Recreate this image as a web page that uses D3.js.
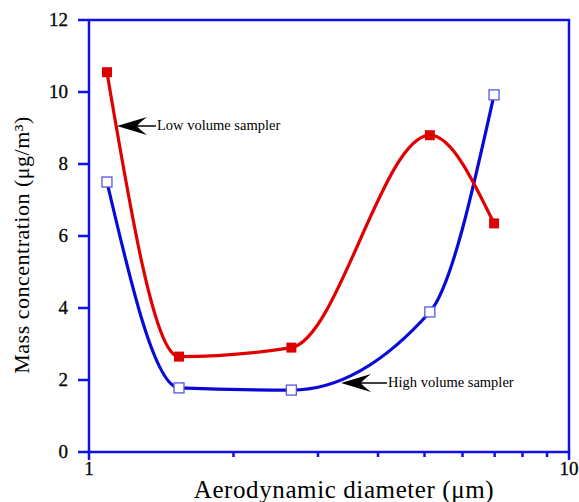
<!DOCTYPE html>
<html>
<head>
<meta charset="utf-8">
<script src="https://cdn.jsdelivr.net/npm/d3@7"></script>
<style>
  body { margin: 0; background: #fff; }
  svg text { font-family: "Liberation Serif", serif; }
</style>
</head>
<body>
<div id="canvas"></div>
<script>
"use strict";

/* Data */
let diameters = [1.09, 1.54, 2.64, 5.13, 6.98];
let lowVolume = [10.55, 2.65, 2.9, 8.8, 6.35];
let highVolume = [7.5, 1.78, 1.72, 3.89, 9.92];
let yTicks = [0, 2, 4, 6, 8, 10, 12];
let xMajor = [1, 10];
let xMinor = [2, 3, 4, 5, 6, 7, 8, 9];

/* SVG setup */
let svgWidth = 579;
let svgHeight = 502;
let plotLeft = 89, plotRight = 569, plotTop = 20, plotBottom = 452;
let axisBlue = "#1010ee";

let svg = d3.select("#canvas")
  .append("svg")
  .attr("width", svgWidth)
  .attr("height", svgHeight);

/* Scales */
let xScale = d3.scaleLog().domain([1, 10]).range([plotLeft, plotRight]);
let yScale = d3.scaleLinear().domain([0, 12]).range([plotBottom, plotTop]);

/* Frame */
svg.append("rect")
  .attr("x", plotLeft)
  .attr("y", plotTop)
  .attr("width", plotRight - plotLeft)
  .attr("height", plotBottom - plotTop)
  .attr("fill", "none")
  .attr("stroke", axisBlue)
  .attr("stroke-width", 2.5);

/* Y ticks */
for (let i = 0; i < yTicks.length; i++) {
  let y = yScale(yTicks[i]);
  svg.append("line")
    .attr("x1", plotLeft - 11)
    .attr("y1", y)
    .attr("x2", plotLeft)
    .attr("y2", y)
    .attr("stroke", axisBlue)
    .attr("stroke-width", 2.5);

  svg.append("text")
    .attr("x", plotLeft - 21)
    .attr("y", y + 6)
    .attr("text-anchor", "end")
    .attr("font-size", 19)
    .attr("stroke", "#111")
    .attr("stroke-width", 0.3)
    .text(yTicks[i]);
}

/* X ticks */
for (let i = 0; i < xMajor.length; i++) {
  let x = xScale(xMajor[i]);
  svg.append("line")
    .attr("x1", x)
    .attr("y1", plotBottom)
    .attr("x2", x)
    .attr("y2", plotBottom + 8)
    .attr("stroke", axisBlue)
    .attr("stroke-width", 2.5);

  svg.append("text")
    .attr("x", x)
    .attr("y", plotBottom + 23)
    .attr("text-anchor", "middle")
    .attr("font-size", 19)
    .attr("stroke", "#111")
    .attr("stroke-width", 0.3)
    .text(xMajor[i]);
}
for (let i = 0; i < xMinor.length; i++) {
  let x = xScale(xMinor[i]);
  svg.append("line")
    .attr("x1", x)
    .attr("y1", plotBottom)
    .attr("x2", x)
    .attr("y2", plotBottom + 5)
    .attr("stroke", axisBlue)
    .attr("stroke-width", 2.5);
}

/* Curves */
let line = d3.line()
  .x(function (d) { return xScale(d[0]); })
  .y(function (d) { return yScale(d[1]); })
  .curve(d3.curveMonotoneX);

let lowPts = d3.zip(diameters, lowVolume);
let highPts = d3.zip(diameters, highVolume);

svg.append("path")
  .attr("d", line(highPts))
  .attr("fill", "none")
  .attr("stroke", "#0a0ad8")
  .attr("stroke-width", 3.2);

svg.append("path")
  .attr("d", line(lowPts))
  .attr("fill", "none")
  .attr("stroke", "#e00000")
  .attr("stroke-width", 3.2);

/* Markers */
let size = 10;
for (let i = 0; i < highPts.length; i++) {
  svg.append("rect")
    .attr("x", xScale(highPts[i][0]) - size / 2)
    .attr("y", yScale(highPts[i][1]) - size / 2)
    .attr("width", size)
    .attr("height", size)
    .attr("fill", "white")
    .attr("stroke", "#5555ee")
    .attr("stroke-width", 1.3);
}
for (let i = 0; i < lowPts.length; i++) {
  svg.append("rect")
    .attr("x", xScale(lowPts[i][0]) - size / 2)
    .attr("y", yScale(lowPts[i][1]) - size / 2)
    .attr("width", size)
    .attr("height", size)
    .attr("fill", "#dd0000");
}

/* Annotations */
function arrow(tipX, tipY, len) {
  let g = svg.append("g").attr("transform", "translate(" + tipX + "," + tipY + ")");
  g.append("path")
    .attr("d", "M0,0 L30,-9 Q22,-3 20,0 Q22,3 30,9 Z")
    .attr("fill", "black");
  g.append("line")
    .attr("x1", 20)
    .attr("y1", 0)
    .attr("x2", len)
    .attr("y2", 0)
    .attr("stroke", "black")
    .attr("stroke-width", 1.5);
}

arrow(117, 126, 39);
svg.append("text")
  .attr("x", 157)
  .attr("y", 130)
  .attr("font-size", 14.5)
  .text("Low volume sampler");

arrow(341, 383, 46);
svg.append("text")
  .attr("x", 388)
  .attr("y", 387)
  .attr("font-size", 14.5)
  .text("High volume sampler");

/* Axis labels */
svg.append("text")
  .attr("x", 344)
  .attr("y", 498)
  .attr("text-anchor", "middle")
  .attr("font-size", 25)
  .attr("letter-spacing", 0.6)
  .text("Aerodynamic diameter (\u03bcm)");

svg.append("text")
  .attr("transform", "rotate(-90)")
  .attr("x", -245)
  .attr("y", 29)
  .attr("text-anchor", "middle")
  .attr("font-size", 22)
  .attr("letter-spacing", 0.5)
  .text("Mass concentration (\u03bcg/m\u00b3)");
</script>
</body>
</html>
